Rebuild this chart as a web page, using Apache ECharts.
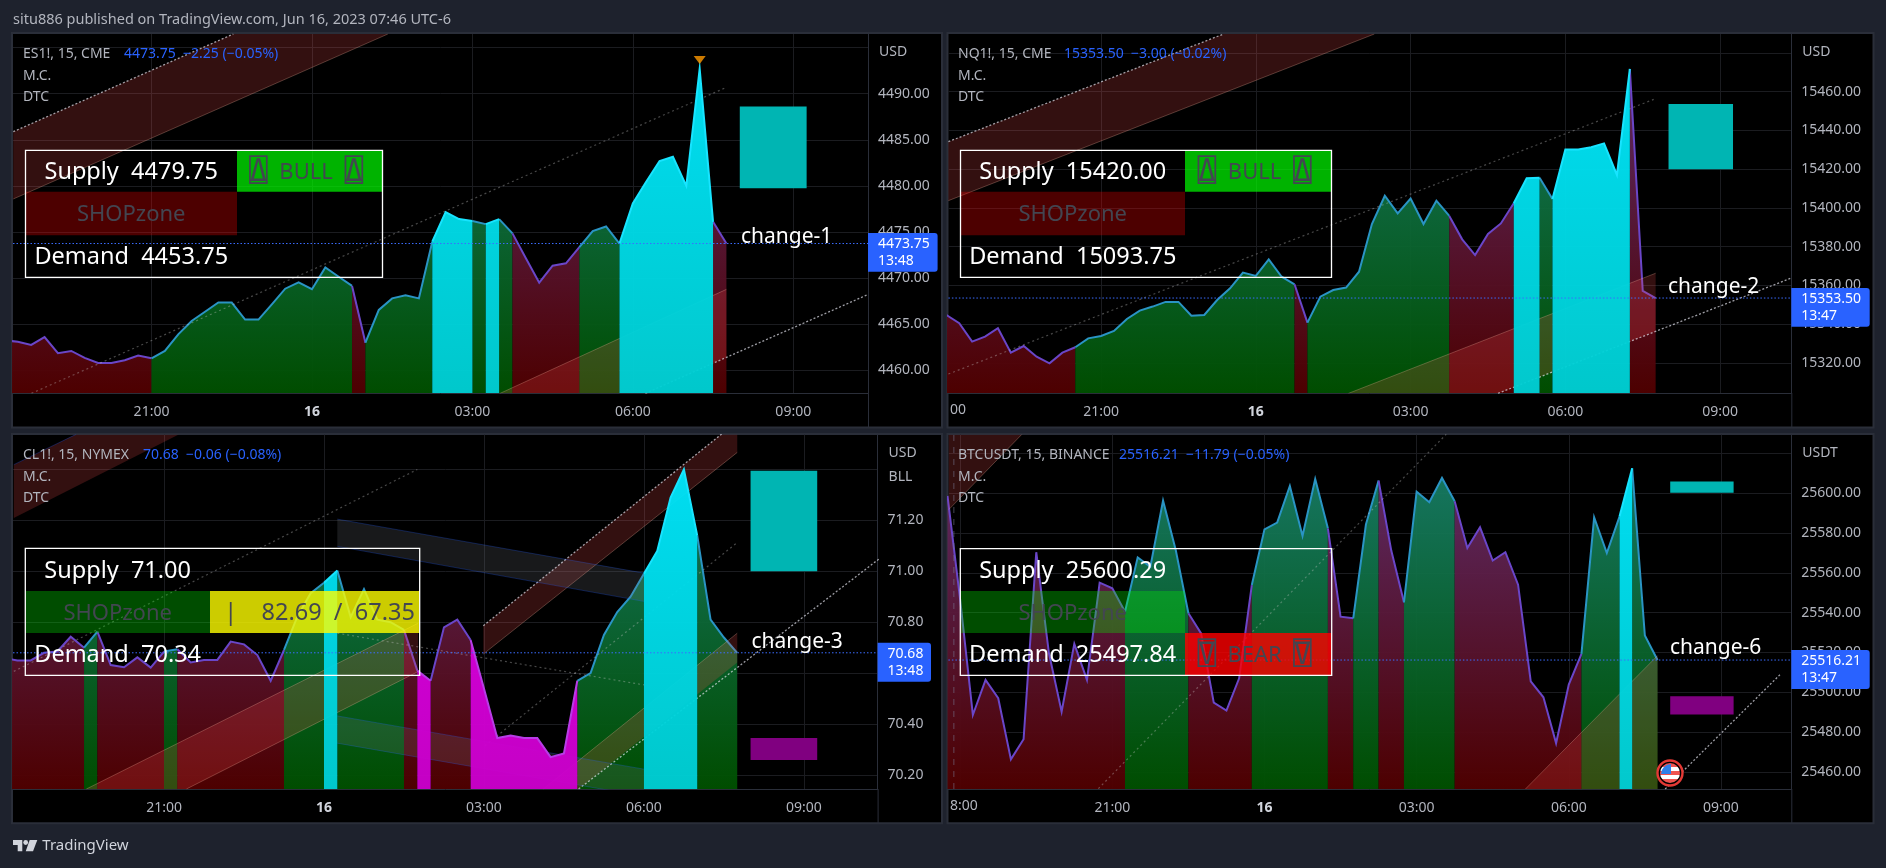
<!DOCTYPE html>
<html><head><meta charset="utf-8"><title>TradingView multi chart</title>
<style>html,body{margin:0;padding:0;background:#1e222d}#c{width:1886px;height:868px}</style>
<script src="https://cdn.jsdelivr.net/npm/echarts@6/dist/echarts.min.js"></script>
</head><body><div id="c"></div>
<script>
// ---- DATA (15-minute bars; bar index 0 = 21:00) ----
const timeTicks = [0, 12, 24, 36, 48];
const timeLabels = ['21:00', '16', '03:00', '06:00', '09:00'];

const es1Start = -11;
const es1Prices = [4463.25,4463.1,4462.75,4463.6,4461.85,4462.1,4461.35,4460.8,4460.8,4461.1,4461.6,4461.3,4462.1,4463.9,4465.35,4466.35,4467.35,4467.35,4465.5,4465.5,4467.15,4468.85,4469.55,4468.8,4471.15,4470.15,4469.15,4463,4466.55,4467.8,4468.15,4467.8,4473.95,4477.15,4476.4,4476.2,4475.85,4476.4,4474.85,4472.15,4469.5,4471.35,4471.6,4473.35,4475.1,4475.6,4473.75,4478.1,4480.45,4482.7,4483.15,4480,4492.7,4476.1,4473.75];
const es1Runs = [['r',-11,0],['g',0,15],['r',15,16],['g',16,21],['c',21,24],['g',24,25],['c',25,26],['g',26,27],['r',27,32],['g',32,35],['c',35,42],['r',42,43]];
const es1Ticks = [4495,4490,4485,4480,4475,4470,4465,4460];
const es1TickLabels = [4490,4485,4480,4475,4470,4465,4460];

const nq1Start = -12;
const nq1Prices = [15344.75,15340.5,15331,15333.6,15337.9,15325.3,15328.75,15323.25,15319.8,15325.3,15328.1,15332.7,15333.9,15336.5,15342.7,15347,15349.1,15351.5,15351.5,15344.4,15344.75,15352.5,15358.5,15366.6,15364.9,15373.5,15364.5,15360.6,15340.8,15354.2,15357.65,15358.9,15367.1,15391.7,15406.3,15397.2,15404.8,15391.7,15403.75,15395.85,15383.8,15375.7,15386.55,15392,15402.4,15415.3,15415.6,15404.6,15430.1,15430.1,15431.3,15433.3,15417,15471.7,15357.15,15353.5];
const nq1Runs = [['r',-12,-2],['g',-2,15],['r',15,16],['g',16,27],['r',27,32],['c',32,34],['g',34,35],['c',35,41],['r',41,43]];
const nq1Ticks = [15480,15460,15440,15420,15400,15380,15360,15340,15320];
const nq1TickLabels = [15460,15440,15420,15400,15380,15360,15340,15320];

const cl1Start = -12;
const cl1Prices = [70.66,70.65,70.65,70.68,70.685,70.743,70.70,70.763,70.632,70.623,70.662,70.622,70.685,70.694,70.642,70.652,70.652,70.724,70.713,70.671,70.57,70.691,70.822,70.914,70.955,71.003,70.82,70.93,70.81,70.80,70.77,70.61,70.57,70.78,70.81,70.73,70.54,70.345,70.355,70.345,70.345,70.27,70.285,70.57,70.60,70.75,70.84,70.90,70.99,71.08,71.29,71.40,71.14,70.81,70.74,70.68];
const cl1Runs = [['r',-12,-6],['g',-6,-5],['r',-5,0],['g',0,1],['r',1,9],['g',9,12],['c',12,13],['g',13,18],['r',18,19],['m',19,20],['r',20,23],['m',23,31],['g',31,36],['c',36,40],['g',40,43]];
const cl1Ticks = [71.4,71.2,71,70.8,70.6,70.4,70.2];
const cl1TickLabels = [71.2,71,70.8,70.6,70.4,70.2];

const btcStart = -13;
const btcPrices = [25598.66,25546.4,25488.6,25506.2,25497,25466.3,25476.4,25570.4,25519.6,25490.3,25524.3,25506.2,25555.1,25552.3,25540.5,25567.8,25563.1,25596.3,25571.5,25539.7,25529.6,25494.8,25490.8,25507,25553.9,25581.9,25585.3,25603.7,25578.6,25607.2,25582.4,25538,25537.2,25584.3,25606.4,25571.2,25545.2,25600.8,25595.5,25607.7,25596,25572.5,25582.9,25566.2,25570.4,25554.1,25505.5,25497.5,25474.4,25503.9,25519.3,25587.9,25570,25588.3,25612.6,25528.5,25516.21];
const btcRuns = [['r',-13,1],['g',1,6],['r',6,11],['g',11,17],['r',17,19],['g',19,21],['r',21,23],['g',23,27],['r',27,37],['g',37,40],['c',40,41],['g',41,43]];
const btcTicks = [25620,25600,25580,25560,25540,25520,25500,25480,25460];
const btcTickLabels = [25600,25580,25560,25540,25520,25500,25480,25460];

// drawing-tool anchors in [bar, price]
const es1Bands = [
  {kind:'red', pts:[[-10.34,4485.88],[6.12,4496.47],[17.68,4496.47],[-10.34,4478.58]]},
  {kind:'red', pts:[[26.07,4457.5],[43,4468.78],[43,4461.44],[36.94,4457.5]]}
];
const es1Lines = [
  {kind:'dot', pts:[[-10.34,4485.88],[6.12,4496.47]]},
  {kind:'edge', pts:[[-10.34,4478.58],[17.68,4496.47]]},
  {kind:'dim', pts:[[-8.98,4457.5],[42.84,4490.58]]},
  {kind:'edge', pts:[[26.07,4457.5],[43,4468.78]]},
  {kind:'dot', pts:[[36.94,4457.5],[53.49,4468.16]]}
];
const nq1Bands = [
  {kind:'red', pts:[[-11.84,15434.2],[9.5,15489.75],[21.19,15489.75],[-11.84,15403.75]]},
  {kind:'red', pts:[[19.18,15304.3],[43,15366.3],[43,15336.3],[30.78,15304.3]]}
];
const nq1Lines = [
  {kind:'dot', pts:[[-11.84,15434.2],[9.5,15489.75]]},
  {kind:'edge', pts:[[-11.84,15403.75],[21.19,15489.75]]},
  {kind:'dim', pts:[[-11.84,15314.3],[42.85,15456]]},
  {kind:'edge', pts:[[19.18,15304.3],[43,15366.3]]},
  {kind:'dot', pts:[[30.78,15304.3],[53.47,15363.7]]}
];
const cl1Bands = [
  {kind:'red', pts:[[-11.27,71.419],[-6.59,71.538],[1.14,71.538],[-11.27,71.209]]},
  {kind:'red', pts:[[23.95,70.786],[41.83,71.539],[43,71.539],[43,71.467],[23.95,70.675]]},
  {kind:'red', pts:[[-5.83,70.145],[19.05,70.796],[19.05,70.606],[1.68,70.145]]},
  {kind:'red', pts:[[28.45,70.145],[43,70.757],[43,70.642],[31.1,70.145]]},
  {kind:'gray', pts:[[13,71.205],[36,70.993],[36,70.882],[13,71.098]]},
  {kind:'gray', pts:[[13,70.432],[36,70.223],[36,70.116],[13,70.325]]}
];
const cl1Lines = [
  {kind:'navy', pts:[[-11.27,71.419],[-6.59,71.538]]},
  {kind:'dot', pts:[[23.95,70.786],[41.83,71.539]]},
  {kind:'edge', pts:[[23.95,70.675],[43,71.467]]},
  {kind:'edge', pts:[[-5.83,70.145],[19.05,70.796]]},
  {kind:'edge', pts:[[1.68,70.145],[19.05,70.606]]},
  {kind:'edge', pts:[[28.45,70.145],[43,70.757]]},
  {kind:'dot', pts:[[31.1,70.145],[53.95,71.061]]},
  {kind:'navy', pts:[[13,71.205],[36,70.993]]},
  {kind:'navy', pts:[[13,71.098],[36,70.882]]},
  {kind:'navy', pts:[[13,70.432],[36,70.223]]},
  {kind:'navy', pts:[[13,70.325],[36,70.116]]},
  {kind:'dim', pts:[[13,70.757],[36,70.554]]},
  {kind:'dim', pts:[[-11.27,70.607],[19,71.40]]},
  {kind:'dim', pts:[[24.07,70.315],[43,71.113]]}
];
const btcBands = [
  {kind:'red', pts:[[-12.9,25629.6],[-7.14,25629.6],[-12.9,25591.8]]},
  {kind:'red', pts:[[32.58,25451.4],[43,25518.4],[43,25451.4]]}
];
const btcLines = [
  {kind:'edge', pts:[[-12.9,25591.8],[-7.14,25629.6]]},
  {kind:'edge', pts:[[32.58,25451.4],[43,25518.4]]},
  {kind:'dot', pts:[[43.6,25451.4],[52.71,25509.2]]},
  {kind:'dim', pts:[[-1.1,25451.6],[26.33,25629.6]]},
  {kind:'session', pts:[[-12.5,25451.4],[-12.5,25629.6]]}
];
const es1Boxes = [{color:'#00b5b3', from:44, to:49, top:4488.6, bottom:4479.75}];
const nq1Boxes = [{color:'#00b5b3', from:44, to:49, top:15453.6, bottom:15420}];
const cl1Boxes = [{color:'#00b5b3', from:44, to:49, top:71.395, bottom:71}, {color:'#800080', from:44, to:49, top:70.345, bottom:70.259}];
const btcBoxes = [{color:'#00b5b3', from:44, to:49, top:25605.9, bottom:25600.29}, {color:'#800080', from:44, to:49, top:25498, bottom:25488.8}];

const FONT = '"Noto Sans", "DejaVu Sans Mono", "DejaVu Sans", sans-serif';
const GREY = '#b2b5be';
const BLUE = '#2962ff';

const panels = [
 {name:'ES1', box:[12,33,942,427.5], plot:[13,34,868,393], xr:[-10.36,53.59], yr:[4457.54,4496.47], start:es1Start, prices:es1Prices, runs:es1Runs, ticks:es1Ticks, labels:es1TickLabels, dec:2, bands:es1Bands, lines:es1Lines, boxes:es1Boxes, xTicks:timeTicks, xLabels:timeLabels,
  legend:'ES1!, 15, CME', legendX:23, values:'4473.75  −2.25 (−0.05%)', valuesX:124, ccy:['USD'], last:4473.75, tag:[868,233,69.6,38.7,'4473.75','13:48'],
  change:['change-1',741,235.7], table:{x:[25.5,237,382.5], y:[150.3,191.7,235.3,277.3], cells:[
    {txt:'Supply  4479.75',c:0,r:0,fill:null,color:'#fff',big:1},{word:'BULL',glyph:'⍍',c:1,r:0,fill:'rgba(0,255,0,.7)',color:'#434651'},
    {txt:'SHOPzone',c:0,r:1,fill:'rgba(255,0,0,.3)',color:'#434651'},{txt:'Demand  4453.75',c:0,r:2,fill:null,color:'#fff',big:1}]}},
 {name:'NQ1', box:[947.5,33,1873.5,427.5], plot:[948.4,34,1791.3,393], xr:[-11.84,53.52], yr:[15304.5,15489.75], start:nq1Start, prices:nq1Prices, runs:nq1Runs, ticks:nq1Ticks, labels:nq1TickLabels, dec:2, bands:nq1Bands, lines:nq1Lines, boxes:nq1Boxes, xTicks:timeTicks, xLabels:timeLabels,
  legend:'NQ1!, 15, CME', legendX:958, values:'15353.50  −3.00 (−0.02%)', valuesX:1064, ccy:['USD'], last:15353.5, tag:[1791.3,288,78.4,38.7,'15353.50','13:47'], clipLabel:['00',950],
  change:['change-2',1668,286], table:{x:[960.5,1185,1331.5], y:[150.3,191.7,235.3,277.3], cells:[
    {txt:'Supply  15420.00',c:0,r:0,fill:null,color:'#fff',big:1},{word:'BULL',glyph:'⍍',c:1,r:0,fill:'rgba(0,255,0,.7)',color:'#434651'},
    {txt:'SHOPzone',c:0,r:1,fill:'rgba(255,0,0,.3)',color:'#434651'},{txt:'Demand  15093.75',c:0,r:2,fill:null,color:'#fff',big:1}]}},
 {name:'CL1', box:[12,434,942,823.3], plot:[13,434.7,877.6,789], xr:[-11.33,53.53], yr:[70.145,71.5366], start:cl1Start, prices:cl1Prices, runs:cl1Runs, ticks:cl1Ticks, labels:cl1TickLabels, dec:2, bands:cl1Bands, lines:cl1Lines, boxes:cl1Boxes, xTicks:timeTicks, xLabels:timeLabels,
  legend:'CL1!, 15, NYMEX', legendX:23, values:'70.68  −0.06 (−0.08%)', valuesX:143, ccy:['USD','BLL'], last:70.68, tag:[877.6,642.7,53.4,39,'70.68','13:48'],
  change:['change-3',751.5,640.7], table:{x:[25.3,210,419.7], y:[548.3,591,633,675.3], cells:[
    {txt:'Supply  71.00',c:0,r:0,fill:null,color:'#fff',big:1},
    {txt:'SHOPzone',c:0,r:1,fill:'rgba(0,255,0,.3)',color:'#434651'},{txt:'|    82.69  /  67.35',c:1,r:1,fill:'rgba(255,255,0,.8)',color:'#434651',cx:319.5,size:23.5},{txt:'Demand  70.34',c:0,r:2,fill:null,color:'#fff',big:1}]}},
 {name:'BTC', box:[947.5,434,1873.5,823.3], plot:[948.4,434.7,1791.3,789], xr:[-12.93,53.55], yr:[25451.4,25629.45], start:btcStart, prices:btcPrices, runs:btcRuns, ticks:btcTicks, labels:btcTickLabels, dec:2, bands:btcBands, lines:btcLines, boxes:btcBoxes, xTicks:[-12].concat(timeTicks), xLabels:timeLabels, clipLabel:['8:00',950],
  legend:'BTCUSDT, 15, BINANCE', legendX:958, values:'25516.21  −11.79 (−0.05%)', valuesX:1119, ccy:['USDT'], last:25516.21, tag:[1791.3,650,78.4,39,'25516.21','13:47'],
  change:['change-6',1670,647.3], table:{x:[960.3,1185,1331.7], y:[548.7,591,633,675.3], cells:[
    {txt:'Supply  25600.29',c:0,r:0,fill:null,color:'#fff',big:1},
    {txt:'SHOPzone',c:0,r:1,fill:'rgba(0,255,0,.3)',color:'#434651'},{txt:'Demand  25497.84',c:0,r:2,fill:null,color:'#fff',big:1},{word:'BEAR',glyph:'⍔',c:1,r:2,fill:'rgba(255,0,0,.8)',color:'#434651'}]}}
];

const stateStyle = {
 r:{line:'#6a46c8', top:'rgba(100,50,118,.94)', bot:'rgba(80,0,0,.96)', z:2},
 g:{line:'#2a94c4', top:'rgba(26,132,116,.92)', bot:'rgba(0,80,0,.96)', z:2},
 c:{line:'#18e4ff', top:'rgba(0,232,255,.96)', bot:'rgba(0,208,212,.96)', z:5},
 m:{line:'#b83ce6', top:'rgba(228,0,238,.96)', bot:'rgba(204,0,204,.96)', z:5}
};
const bandFill = {red:'rgba(255,82,82,.2)', gray:'rgba(120,123,134,.2)'};
const lineStyleOf = {
 dot:{color:'rgba(225,225,235,.7)', width:1.3, type:[2,2]},
 dim:{color:'rgba(200,200,200,.36)', width:1.2, type:[2,3]},
 edge:{color:'rgba(255,190,170,.28)', width:1, type:'solid'},
 navy:{color:'rgba(41,98,255,.28)', width:1, type:'solid'},
 session:{color:'rgba(120,123,150,.55)', width:1, type:[6,6]}
};

const grids=[], xAxes=[], yAxes=[], series=[], bgEls=[], topEls=[];
function txt(x,y,text,fill,size,extra){ return {type:'text',x,y,z:100,silent:true,style:{text,fill,font:size+'px '+((extra&&extra.font)||FONT),verticalAlign:'middle',align:(extra&&extra.align)||'left'}}; }
function rect(x,y,w,h,fill,z,extra){ return {type:'rect',z,silent:true,shape:Object.assign({x,y,width:w,height:h},extra||{}),style:{fill}}; }

panels.forEach((p,i)=>{
 const [L,T,R,B]=p.plot;
 grids.push({left:L,top:T,width:R-L,height:B-T,containLabel:false});
 xAxes.push({type:'value',gridIndex:i,min:p.xr[0],max:p.xr[1],
  axisLine:{show:true,onZero:false,lineStyle:{color:'#2a2e39',width:1}},
  axisTick:{show:false,customValues:p.xTicks},
  splitLine:{show:true,lineStyle:{color:'#1b1c20',width:1}},
  axisLabel:{customValues:timeTicks,margin:12,color:GREY,fontFamily:FONT,fontSize:14,
    formatter:v=>{const s=timeLabels[timeTicks.indexOf(v)]; return s==='16'?'{b|16}':s;},
    rich:{b:{color:'#d1d4dc',fontWeight:'bold',fontFamily:FONT,fontSize:14}}}});
 yAxes.push({type:'value',gridIndex:i,position:'right',min:p.yr[0],max:p.yr[1],
  axisLine:{show:true,onZero:false,lineStyle:{color:'#2a2e39',width:1}},
  axisTick:{show:false,customValues:p.ticks},
  splitLine:{show:true,lineStyle:{color:'#1b1c20',width:1}},
  axisLabel:{customValues:p.labels,margin:10,color:GREY,fontFamily:FONT,fontSize:14,padding:[2,0,0,0],formatter:v=>v.toFixed(p.dec)}});

 const G=(s)=>new echarts.graphic.LinearGradient(0,T,0,B,[{offset:0,color:s.top},{offset:1,color:s.bot}],true);
 p.runs.forEach(([st,a,b])=>{
  const s=stateStyle[st], data=[];
  for(let k=a;k<=b;k++) data.push([k,p.prices[k-p.start]]);
  series.push({type:'line',xAxisIndex:i,yAxisIndex:i,z:s.z,data,showSymbol:false,silent:true,animation:false,
    lineStyle:{color:s.line,width:2,join:'miter'},itemStyle:{color:s.line},areaStyle:{origin:'start',opacity:1,color:G(s)}});
 });
 p.bands.forEach(b=>{
  series.push({type:'custom',xAxisIndex:i,yAxisIndex:i,z:3,clip:true,silent:true,animation:false,data:b.pts,
    renderItem:(params,api)=>params.dataIndex!==0?null:({type:'polygon',shape:{points:b.pts.map(q=>api.coord(q))},style:{fill:bandFill[b.kind]}})});
 });
 p.lines.forEach(l=>{
  series.push({type:'line',xAxisIndex:i,yAxisIndex:i,z:4,data:l.pts,showSymbol:false,silent:true,animation:false,lineStyle:lineStyleOf[l.kind]});
 });
 p.boxes.forEach(b=>{
  series.push({type:'custom',xAxisIndex:i,yAxisIndex:i,z:6,clip:true,silent:true,animation:false,data:[[b.from,b.top],[b.to,b.bottom]],
    renderItem:(params,api)=>{ if(params.dataIndex!==0) return null; const a=api.coord([b.from,b.top]),c=api.coord([b.to,b.bottom]);
      return {type:'rect',shape:{x:a[0],y:a[1],width:c[0]-a[0],height:c[1]-a[1]},style:{fill:b.color}};}});
 });
 series.push({type:'line',xAxisIndex:i,yAxisIndex:i,z:7,data:[[p.xr[0],p.last],[p.xr[1],p.last]],showSymbol:false,silent:true,animation:false,lineStyle:{color:'#3a6cff',width:1,type:[1.5,2]}});
 if(i===0) series.push({type:'scatter',xAxisIndex:i,yAxisIndex:i,z:8,data:[[41,4493.65]],symbol:'triangle',symbolRotate:180,symbolSize:[12,8],itemStyle:{color:'#ff9800'},silent:true,animation:false});

 // panel chrome
 const [bl,bt,br,bb]=p.box;
 bgEls.push({type:'rect',z:-10,silent:true,shape:{x:bl,y:bt,width:br-bl,height:bb-bt},style:{fill:'#000',stroke:'#2a2e39',lineWidth:2}});
 bgEls.push({type:'line',z:-9,silent:true,shape:{x1:R+.5,y1:B,x2:R+.5,y2:bb},style:{stroke:'#2a2e39',lineWidth:1}});

 // table
 const t=p.table, xs=t.x, ys=t.y;
 t.cells.forEach(c=>{
  const x0=xs[c.c],x1=xs[c.c+1],y0=ys[c.r],y1=ys[c.r+1],mx=(x0+x1)/2,my=(y0+y1)/2+1.5;
  if(c.fill) topEls.push(rect(x0,y0,x1-x0,y1-y0,c.fill,90));
  if(c.word){
    topEls.push(txt(mx-3.7,my,c.word,c.color,22,{align:'center'}));
    [-47.7,47.7].forEach(d=>topEls.push(txt(mx-3.7+d,my,c.glyph,c.color,31,{align:'center',font:'"DejaVu Sans Mono"'})));
  } else {
    topEls.push(txt(c.cx||mx,my,c.txt,c.color,c.size||(c.big?23.5:22),{align:'center'}));
  }
 });
 topEls.push({type:'rect',z:95,silent:true,shape:{x:xs[0],y:ys[0],width:xs[2]-xs[0],height:ys[3]-ys[0]},style:{fill:'none',stroke:'#fff',lineWidth:1.3}});

 // legend text
 topEls.push(txt(p.legendX,T+20.5,p.legend,GREY,14));
 topEls.push(txt(p.valuesX,T+20.5,p.values,BLUE,14));
 topEls.push(txt(p.legendX,T+42,'M.C.',GREY,14));
 topEls.push(txt(p.legendX,T+63,'DTC',GREY,14));
 p.ccy.forEach((c,j)=>topEls.push(txt(R+11,T+18.5+j*24,c,GREY,14)));
 const g=p.tag;
 topEls.push(rect(g[0],g[1],g[2],g[3],BLUE,96,{r:[0,3,3,0]}));
 topEls.push(txt(g[0]+10,g[1]+11,g[4],'#fff',14));
 topEls.push(txt(g[0]+10,g[1]+28.5,g[5],'#fff',14));
 topEls.push(txt(p.change[1],p.change[2]+1,p.change[0],'#fff',21));
 if(p.clipLabel) topEls.push(txt(p.clipLabel[1],B+17,p.clipLabel[0],GREY,14));
});

// page header and footer
topEls.push(txt(13,20,'situ886 published on TradingView.com, Jun 16, 2023 07:46 UTC-6',GREY,14.5));
topEls.push(txt(42.3,846,'TradingView','#d1d4dc',15));
topEls.push({type:'polygon',z:100,silent:true,shape:{points:[[13,840],[22.3,840],[22.3,851.3],[17.7,851.3],[17.7,845],[13,845]]},style:{fill:'#d1d4dc'}});
topEls.push({type:'polygon',z:100,silent:true,shape:{points:[[29.7,840],[37.3,840],[33,851.3],[25.7,851.3]]},style:{fill:'#d1d4dc'}});
topEls.push({type:'circle',z:100,silent:true,shape:{cx:25.7,cy:842.5,r:2.4},style:{fill:'#d1d4dc'}});

// event flag
const fx=1670, fy=773;
topEls.push({type:'circle',z:100,silent:true,shape:{cx:fx,cy:fy,r:12.5},style:{fill:'#000',stroke:'#e53935',lineWidth:2.4}});
topEls.push({type:'circle',z:100,silent:true,shape:{cx:fx,cy:fy,r:10},style:{fill:new echarts.graphic.LinearGradient(0,0,0,1,[
 {offset:0,color:'#ef5350'},{offset:.2,color:'#ef5350'},{offset:.2,color:'#fff'},{offset:.4,color:'#fff'},{offset:.4,color:'#ef5350'},{offset:.6,color:'#ef5350'},{offset:.6,color:'#fff'},{offset:.8,color:'#fff'},{offset:.8,color:'#ef5350'},{offset:1,color:'#ef5350'}])}});
topEls.push({type:'sector',z:101,silent:true,shape:{cx:fx+1,cy:fy+1,r:10,startAngle:Math.PI,endAngle:Math.PI*1.5},style:{fill:'#2f7fe8'}});

const chart=echarts.init(document.getElementById('c'),null,{renderer:'canvas'});
chart.setOption({animation:false,backgroundColor:'#1e222d',grid:grids,xAxis:xAxes,yAxis:yAxes,series,graphic:{elements:bgEls.concat(topEls)}});
</script></body></html>
